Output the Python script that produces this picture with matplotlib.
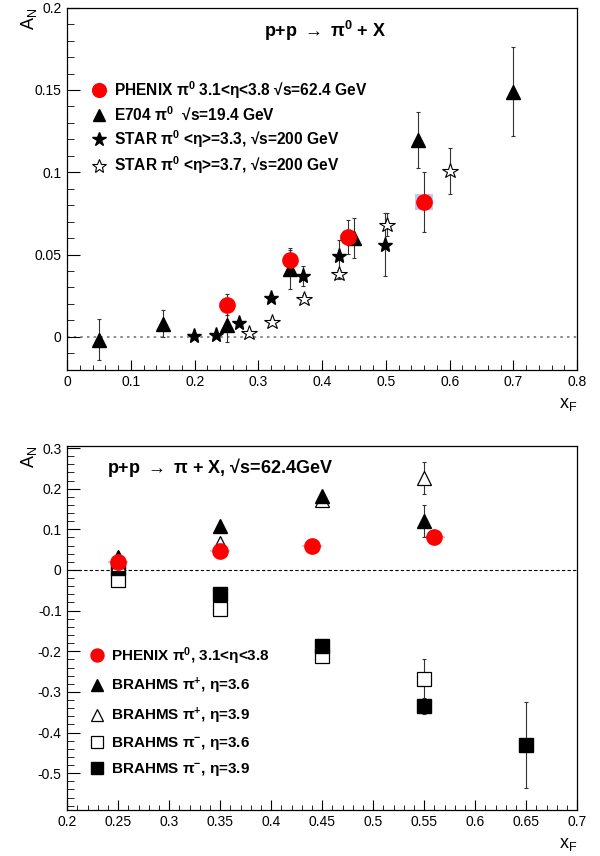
import numpy as np
import matplotlib.pyplot as plt
from matplotlib.ticker import MultipleLocator

plt.rcParams['font.family'] = ['Liberation Sans', 'DejaVu Sans']
plt.rcParams['mathtext.fontset'] = 'custom'
plt.rcParams['mathtext.rm'] = 'Liberation Sans'
plt.rcParams['mathtext.bf'] = 'Liberation Sans:bold'
plt.rcParams['mathtext.it'] = 'Liberation Sans:italic'

# ---- top panel: p+p -> pi0 + X
phx_x = [0.25, 0.35, 0.44, 0.56]
phx_y = [0.0196, 0.047, 0.0607, 0.082]
phx_err = [0.0065, 0.007, 0.0105, 0.018]
phx_sys = [0.0018, 0.0018, 0.0018, 0.005]
phx_dx = [0.012, 0.012, 0.012, 0.014]

e704_x = [0.05, 0.15, 0.25, 0.35, 0.45, 0.55, 0.70]
e704_y = [-0.0016, 0.0081, 0.0071, 0.041, 0.060, 0.1198, 0.149]
e704_err = [0.0125, 0.008, 0.0105, 0.012, 0.0122, 0.017, 0.027]

star33_x = [0.199, 0.233, 0.27, 0.319, 0.37, 0.427, 0.499]
star33_y = [0.0004, 0.0014, 0.0085, 0.0237, 0.0368, 0.049, 0.056]
star33_err = [0.001, 0.001, 0.002, 0.002, 0.006, 0.010, 0.019]

star37_x = [0.285, 0.322, 0.372, 0.427, 0.501, 0.60]
star37_y = [0.0024, 0.0091, 0.0233, 0.0379, 0.068, 0.1006]
star37_err = [0.002, 0.002, 0.002, 0.003, 0.007, 0.014]

# ---- bottom panel: p+p -> pi + X, sqrt(s)=62.4 GeV
phx2_x = [0.25, 0.35, 0.44, 0.56]
phx2_y = [0.019, 0.047, 0.059, 0.081]
phx2_err = [0.006, 0.007, 0.008, 0.018]
phx2_sys = [0.002, 0.002, 0.002, 0.002]
phx2_dx = [0.01, 0.01, 0.01, 0.01]

bp36_x = [0.25, 0.35, 0.45, 0.55]
bp36_y = [0.032, 0.108, 0.181, 0.12]
bp36_err = [0.008, 0.008, 0.008, 0.04]

bp39_x = [0.25, 0.35, 0.45, 0.55]
bp39_y = [0.015, 0.066, 0.173, 0.226]
bp39_err = [0.008, 0.008, 0.008, 0.04]

bm36_x = [0.25, 0.35, 0.45, 0.55]
bm36_y = [-0.024, -0.097, -0.212, -0.269]
bm36_err = [0.008, 0.008, 0.008, 0.05]

bm39_x = [0.25, 0.35, 0.45, 0.55, 0.65]
bm39_y = [0.004, -0.060, -0.186, -0.334, -0.431]
bm39_err = [0.008, 0.008, 0.008, 0.02, 0.105]

BLUE = '#c4c6f6'
ebkw = dict(fmt='none', ecolor='#333333', elinewidth=0.8, capsize=1.5, capthick=0.8)
PI0 = r'π$^{\mathbf{0}}$'
PIP = r'π$^{\mathbf{+}}$'
PIM = r'π$^{\mathbf{-}}$'
ARROW = r'$\rightarrow$'

fig = plt.figure(figsize=(6, 8.56), dpi=100)
ax1 = fig.add_axes([0.112, 0.568, 0.850, 0.423])
ax2 = fig.add_axes([0.112, 0.054, 0.850, 0.425])

# ---------------- top
ax1.axhline(0, color='#777777', lw=1.2, ls=(0, (1.5, 2.5)), zorder=1)
ax1.bar(phx_x, 2 * np.array(phx_sys), width=2 * np.array(phx_dx),
        bottom=np.array(phx_y) - np.array(phx_sys), color=BLUE, zorder=2)
ax1.errorbar(e704_x, e704_y, yerr=e704_err, zorder=3, **ebkw)
ax1.errorbar(star33_x, star33_y, yerr=star33_err, zorder=3, **ebkw)
ax1.errorbar(star37_x, star37_y, yerr=star37_err, zorder=3, **ebkw)
ax1.errorbar(phx_x, phx_y, yerr=phx_err, zorder=3, **ebkw)
h_e704, = ax1.plot(e704_x, e704_y, '^', ms=10, color='black', ls='none', zorder=4,
                   label=f'E704 {PI0}  √s=19.4 GeV')
h_s33, = ax1.plot(star33_x, star33_y, '*', ms=11, color='black', ls='none', zorder=4,
                  label=f'STAR {PI0} <η>=3.3, √s=200 GeV')
h_s37, = ax1.plot(star37_x, star37_y, '*', ms=11.5, mfc='white', mec='black', mew=0.8,
                  ls='none', zorder=4, label=f'STAR {PI0} <η>=3.7, √s=200 GeV')
h_phx, = ax1.plot(phx_x, phx_y, 'o', ms=11, color='red', ls='none', zorder=5,
                  label=f'PHENIX {PI0} 3.1<η<3.8 √s=62.4 GeV')

ax1.set_xlim(0, 0.8)
ax1.set_ylim(-0.02, 0.2)
ax1.xaxis.set_major_locator(MultipleLocator(0.1))
ax1.xaxis.set_minor_locator(MultipleLocator(0.02))
ax1.yaxis.set_major_locator(MultipleLocator(0.05))
ax1.yaxis.set_minor_locator(MultipleLocator(0.01))
ax1.set_xticks(ax1.get_xticks())
ax1.set_xticklabels([f'{round(v, 2):g}' for v in ax1.get_xticks()])
ax1.set_yticks(ax1.get_yticks())
ax1.set_yticklabels([f'{round(v, 3):g}' for v in ax1.get_yticks()])
ax1.set_xlim(0, 0.8)
ax1.set_ylim(-0.02, 0.2)

ax1.legend(handles=[h_phx, h_e704, h_s33, h_s37], loc='upper left',
           bbox_to_anchor=(0.048, 0.803), frameon=False,
           prop={'weight': 'bold', 'size': 11.2}, handlelength=1.0,
           handletextpad=0.45, borderpad=0, borderaxespad=0, labelspacing=0.3,
           markerscale=0.9)
ax1.text(0.506, 0.935, 'p+p ' + ARROW + ' ' + PI0 + ' + X', transform=ax1.transAxes,
         ha='center', va='center', fontsize=13, fontweight='bold')
ax1.text(-0.075, 1.0, r'A$_\mathregular{N}$', transform=ax1.transAxes,
         rotation=90, ha='center', va='top', fontsize=13)
ax1.text(1.0, -0.072, r'x$_\mathregular{F}$', transform=ax1.transAxes,
         ha='right', va='top', fontsize=13)

# ---------------- bottom
ax2.axhline(0, color='black', lw=0.8, ls=(0, (3, 2)), zorder=1)
ax2.bar(phx2_x, 2 * np.array(phx2_sys), width=2 * np.array(phx2_dx),
        bottom=np.array(phx2_y) - np.array(phx2_sys), color=BLUE, zorder=2)
for xs, ys, es in [(bp36_x, bp36_y, bp36_err), (bp39_x, bp39_y, bp39_err),
                   (bm36_x, bm36_y, bm36_err), (bm39_x, bm39_y, bm39_err),
                   (phx2_x, phx2_y, phx2_err)]:
    ax2.errorbar(xs, ys, yerr=es, zorder=3, **ebkw)
g_bm36, = ax2.plot(bm36_x, bm36_y, 's', ms=10, mfc='white', mec='black', mew=0.9,
                   ls='none', zorder=4, label=f'BRAHMS {PIM}, η=3.6')
g_bm39, = ax2.plot(bm39_x, bm39_y, 's', ms=10, color='black', ls='none', zorder=4,
                   label=f'BRAHMS {PIM}, η=3.9')
g_bp39, = ax2.plot(bp39_x, bp39_y, '^', ms=10.5, mfc='white', mec='black', mew=0.9,
                   ls='none', zorder=4, label=f'BRAHMS {PIP}, η=3.9')
g_bp36, = ax2.plot(bp36_x, bp36_y, '^', ms=10.5, color='black', ls='none', zorder=4,
                   label=f'BRAHMS {PIP}, η=3.6')
g_phx, = ax2.plot(phx2_x, phx2_y, 'o', ms=11, color='red', ls='none', zorder=5,
                  label=f'PHENIX {PI0}, 3.1<η<3.8')

ax2.set_xlim(0.2, 0.7)
ax2.set_ylim(-0.59, 0.305)
ax2.xaxis.set_major_locator(MultipleLocator(0.05))
ax2.xaxis.set_minor_locator(MultipleLocator(0.01))
ax2.yaxis.set_major_locator(MultipleLocator(0.1))
ax2.yaxis.set_minor_locator(MultipleLocator(0.02))
ax2.set_xticks(ax2.get_xticks())
ax2.set_xticklabels([f'{round(v, 3):g}' for v in ax2.get_xticks()])
ax2.set_yticks(ax2.get_yticks())
ax2.set_yticklabels([f'{round(v, 2):g}' for v in ax2.get_yticks()])
ax2.set_xlim(0.2, 0.7)
ax2.set_ylim(-0.59, 0.305)

ax2.legend(handles=[g_phx, g_bp36, g_bp39, g_bm36, g_bm39], loc='upper left',
           bbox_to_anchor=(0.043, 0.453), frameon=False,
           prop={'weight': 'bold', 'size': 11}, handlelength=1.0,
           handletextpad=0.45, borderpad=0, borderaxespad=0, labelspacing=0.61,
           markerscale=0.85)
ax2.text(0.078, 0.94, 'p+p ' + ARROW + ' π + X, √s=62.4GeV', transform=ax2.transAxes,
         ha='left', va='center', fontsize=13, fontweight='bold')
ax2.text(-0.075, 1.0, r'A$_\mathregular{N}$', transform=ax2.transAxes,
         rotation=90, ha='center', va='top', fontsize=13)
ax2.text(1.0, -0.072, r'x$_\mathregular{F}$', transform=ax2.transAxes,
         ha='right', va='top', fontsize=13)

for ax in (ax1, ax2):
    ax.tick_params(which='both', direction='in', top=False, right=False,
                   labelsize=10, colors='black', pad=4)
    ax.tick_params(axis='x', which='major', length=7)
    ax.tick_params(axis='x', which='minor', length=3.5)
    ax.tick_params(axis='y', which='major', length=9.5)
    ax.tick_params(axis='y', which='minor', length=5)
    for s in ax.spines.values():
        s.set_linewidth(0.9)

plt.savefig('out.png', dpi=100)
